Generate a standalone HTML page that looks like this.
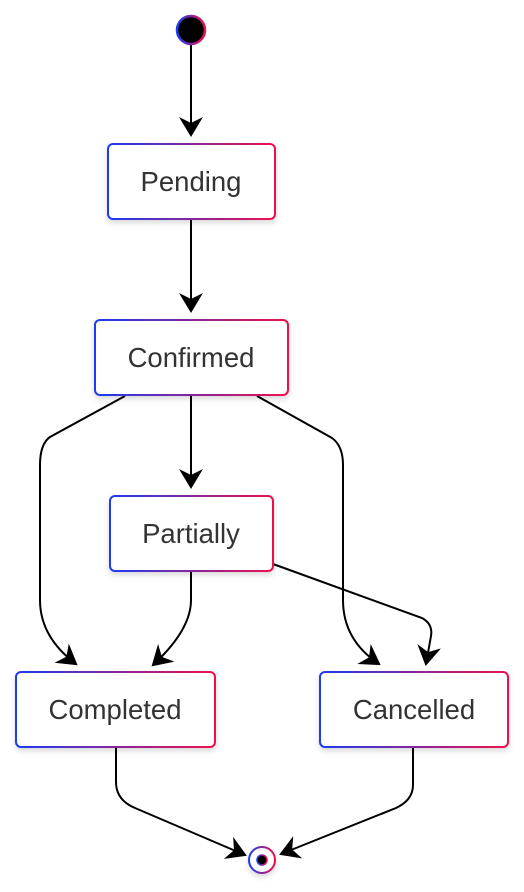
<!DOCTYPE html>
<html><head><meta charset="utf-8"><style>
html,body{margin:0;padding:0;background:#fff;}
svg{display:block;}
text{font-family:"Liberation Sans",sans-serif;font-size:27.5px;fill:#333;}
</style></head><body>
<svg width="524" height="892" viewBox="0 0 524 892">
<defs>
<linearGradient id="g" x1="0" y1="0" x2="1" y2="0">
<stop offset="0" stop-color="#1a3cf0"/><stop offset="1" stop-color="#f0104a"/>
</linearGradient>
<filter id="sh" x="-20%" y="-20%" width="140%" height="150%"><feDropShadow dx="0" dy="3" stdDeviation="3" flood-color="#000" flood-opacity="0.15"/></filter>
<marker id="a" viewBox="0 0 20 24" refX="18" refY="12" markerWidth="20" markerHeight="24" orient="auto" markerUnits="userSpaceOnUse">
<path d="M0,0 L20,12 L0,24 L6,12 z" fill="#000"/>
</marker>
</defs>
<g fill="none" stroke="#000" stroke-width="2" marker-end="url(#a)">
<path d="M191,44 L191,135"/>
<path d="M191,219 L191,311"/>
<path d="M191,395 L191,487"/>
<path d="M125,396 L50,437 Q40,444 40,465 L40,600 Q40,637 76,664"/>
<path d="M257,396 L332,438 Q343,446 343,465 L343,600 Q343,640 379,664"/>
<path d="M191,572 L191,600 Q191,630 153,665"/>
<path d="M273,564 L422,618 Q433,624 431,636 L426,664"/>
<path d="M116,748 L116,782 Q116,800 135,808 L245,855"/>
<path d="M413,748 L413,785 Q413,800 396,808 L281,854"/>
</g>
<circle cx="191" cy="30" r="14" fill="#000" stroke="url(#g)" stroke-width="2.5"/>
<g fill="#fff" stroke="url(#g)" stroke-width="2" filter="url(#sh)">
<rect x="108" y="144" width="167" height="75" rx="5"/>
<rect x="95" y="320" width="193" height="75" rx="5"/>
<rect x="110" y="496" width="163" height="75" rx="5"/>
<rect x="16" y="672" width="199" height="75" rx="5"/>
<rect x="320" y="672" width="188" height="75" rx="5"/>
<circle cx="262" cy="860" r="13"/>
</g>
<circle cx="262" cy="860" r="5" fill="#000" stroke="url(#g)" stroke-width="1.5"/>
<g text-anchor="middle">
<text x="191" y="191">Pending</text>
<text x="191" y="367">Confirmed</text>
<text x="191" y="543">Partially</text>
<text x="115" y="719">Completed</text>
<text x="414" y="719">Cancelled</text>
</g>
</svg>
</body></html>
